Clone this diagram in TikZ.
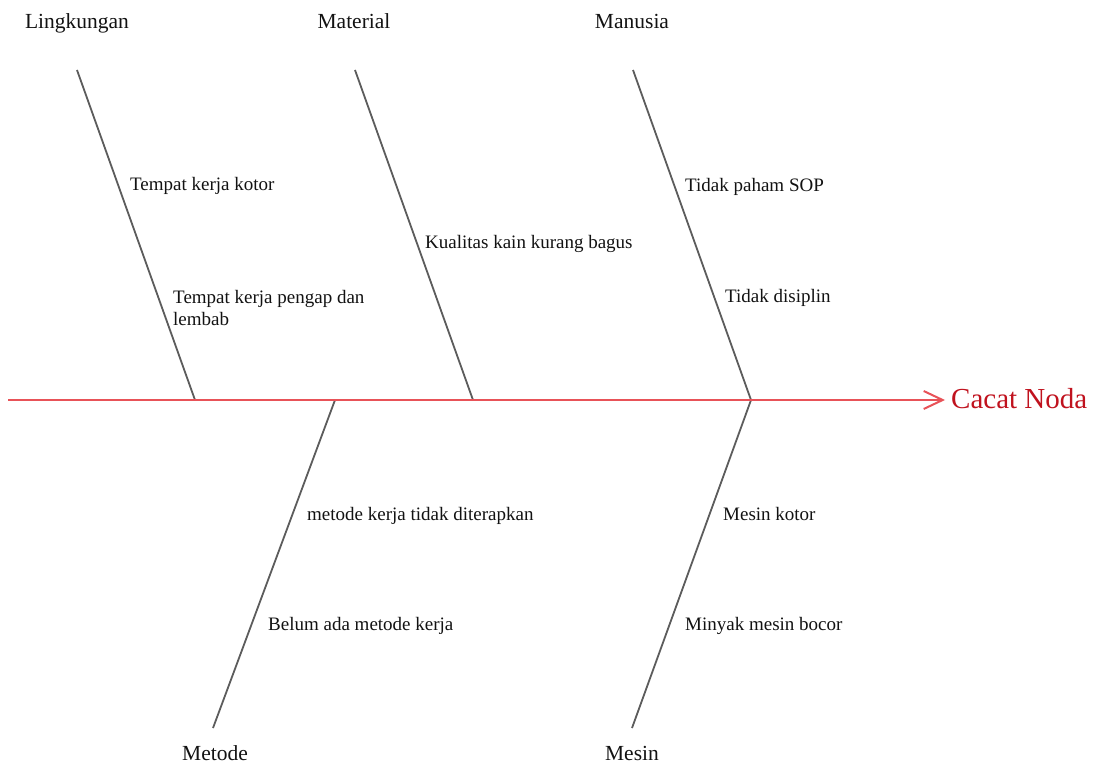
\documentclass[tikz,border=0pt]{standalone}
\usepackage{fontspec}
\setmainfont{Liberation Serif}
\usetikzlibrary{arrows.meta}
\definecolor{spinered}{RGB}{232,82,88}
\definecolor{effectred}{RGB}{192,18,30}
\definecolor{bonegray}{RGB}{92,92,92}
\begin{document}
\begin{tikzpicture}[x=1pt,y=-1pt,every node/.style={inner sep=0pt,text=black!93},
    cat/.style={anchor=base,font=\fontsize{21.5}{26}\selectfont},
    cause/.style={anchor=base west,align=left,font=\fontsize{19}{22}\selectfont},
    bone/.style={draw=bonegray,line width=1.8pt},
    spine/.style={draw=spinered,line width=2.6pt,-{Straight Barb[length=19pt,width=18pt,line width=2pt]}}]
        \useasboundingbox (0,0) rectangle (1102,767);
        % categories
        \node[cat] (lk) at (77,29) {Lingkungan};
        \node[cat] (mt) at (354,29) {Material};
        \node[cat] (mn) at (632,29) {Manusia};
        \node[cat] (md) at (215,760) {Metode};
        \node[cat] (ms) at (632,760) {Mesin};
        % bone ends
        \coordinate (lk1) at (77,70);   \coordinate (lk2) at (195,400);
        \coordinate (mt1) at (355,70);  \coordinate (mt2) at (473,400);
        \coordinate (mn1) at (633,70);  \coordinate (mn2) at (751,400);
        \coordinate (md1) at (335,400); \coordinate (md2) at (213,728);
        \coordinate (ms1) at (751,400); \coordinate (ms2) at (632,728);
        \coordinate (tail) at (8,400);
        \node[anchor=west,inner xsep=6pt,text=effectred,font=\fontsize{29}{34}\selectfont] (akibat) at (945,399) {Cacat Noda};
        % causes
        \node[cause] (kotor)  at (130,191) {Tempat kerja kotor};
        \node[cause] (pengap) at (173,325) {Tempat kerja pengap dan\\lembab};
        \node[cause] (kain)   at (425,248) {Kualitas kain kurang bagus};
        \node[cause] (sop)    at (685,192) {Tidak paham SOP};
        \node[cause] (disip)  at (725,302) {Tidak disiplin};
        \node[cause] (terap)  at (307,520) {metode kerja tidak diterapkan};
        \node[cause] (belum)  at (268,630) {Belum ada metode kerja};
        \node[cause] (mkotor) at (723,520) {Mesin kotor};
        \node[cause] (minyak) at (685,630) {Minyak mesin bocor};
        \draw[bone] (lk1)--(lk2) (mt1)--(mt2) (mn1)--(mn2);
        \draw[bone] (md1)--(md2) (ms1)--(ms2);
        \draw[spine] (tail)--(tail-|akibat.west);
    \end{tikzpicture}
\end{document}
